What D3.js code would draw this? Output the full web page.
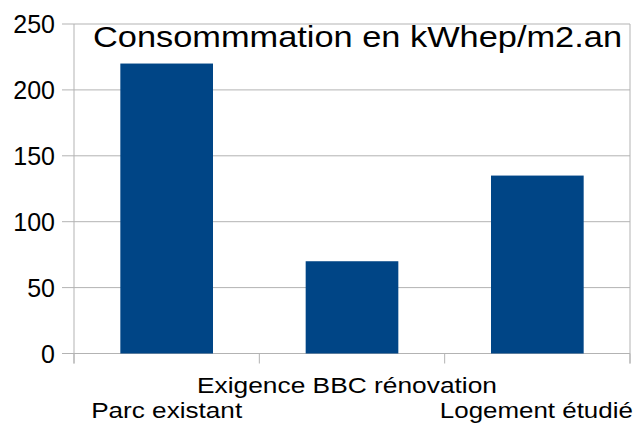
<!DOCTYPE html>
<html><head><meta charset="utf-8">
<script src="https://cdn.jsdelivr.net/npm/d3@7"></script>
<style>body{margin:0;background:#fff;}svg{display:block;font-family:"Liberation Sans",Arial,sans-serif;}</style>
</head><body>
<svg id="c" width="637" height="423"></svg>
<script>
const categories = ["Parc existant", "Exigence BBC rénovation", "Logement étudié"];
const values = [220, 70, 135];
const yTicks = [0, 50, 100, 150, 200, 250];
const title = "Consommmation en kWhep/m2.an";

const svg = d3.select("#c");
const L = 74, R = 630, T = 24, B = 353.5;
const x = d3.scaleBand().domain(categories).range([L, R]).paddingInner(0.5).paddingOuter(0.25);
const y = d3.scaleLinear().domain([0, 250]).range([B, T]);
const grid = "#b3b3b3";

// gridlines
svg.append("g").selectAll("line").data(yTicks).join("line")
  .attr("x1", L - 12).attr("x2", R).attr("y1", d => y(d)).attr("y2", d => y(d))
  .attr("stroke", grid).attr("stroke-width", 1);
// y axis line and right border
svg.append("line").attr("x1", L).attr("x2", L).attr("y1", T).attr("y2", B + 10).attr("stroke", grid);
svg.append("line").attr("x1", R).attr("x2", R).attr("y1", T).attr("y2", B + 10).attr("stroke", grid);
// category ticks
const edges = [L, ...categories.slice(1).map(c => x(c) - x.step() * x.paddingInner() / 2), R];
svg.append("g").selectAll("line").data(edges).join("line")
  .attr("x1", d => d).attr("x2", d => d).attr("y1", B).attr("y2", B + 10).attr("stroke", grid);

// y labels
svg.append("g").selectAll("text").data(yTicks).join("text")
  .attr("x", L - 19).attr("y", d => y(d)).attr("dy", "0.36em").attr("text-anchor", "end")
  .attr("font-size", 25).attr("fill", "#000").text(d => d);

// bars
svg.append("g").selectAll("rect").data(values).join("rect")
  .attr("x", (d, i) => x(categories[i])).attr("width", x.bandwidth())
  .attr("y", d => y(d)).attr("height", d => y(0) - y(d)).attr("fill", "#004586");

// x labels (staggered)
const labelW = [151, 300, 193];
const labelDx = [0, -5, -1];
svg.append("g").selectAll("text").data(categories).join("text")
  .attr("x", (d, i) => x(d) + x.bandwidth() / 2 + labelDx[i])
  .attr("y", (d, i) => i % 2 === 1 ? 393 : 418)
  .attr("text-anchor", "middle").attr("font-size", 22).attr("fill", "#000")
  .attr("textLength", (d, i) => labelW[i]).attr("lengthAdjust", "spacingAndGlyphs")
  .text(d => d);

// title
svg.append("text").attr("x", 357.5).attr("y", 47).attr("text-anchor", "middle")
  .attr("font-size", 30).attr("fill", "#000")
  .attr("textLength", 529).attr("lengthAdjust", "spacingAndGlyphs").text(title);
</script>
</body></html>
